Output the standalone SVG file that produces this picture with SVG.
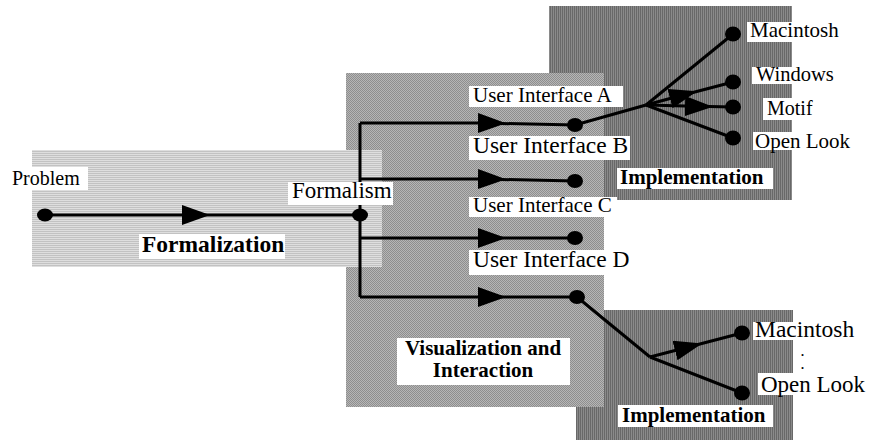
<svg xmlns="http://www.w3.org/2000/svg" width="872" height="444" viewBox="0 0 872 444">
<style>
.lbl{font-family:"Liberation Serif","Times New Roman",serif;fill:#000}
.b{font-weight:bold}
.bg{fill:#fff}
.ln{fill:none;stroke:#000;stroke-width:3}
.arr{fill:none;stroke:#000;stroke-width:3;marker-mid:url(#ah)}
.dot{fill:#000}
</style>
<defs>
<pattern id="pLight" width="2" height="2" patternUnits="userSpaceOnUse">
<rect width="2" height="2" fill="#dedede"/><rect y="1" width="2" height="1" fill="#c2c2c2"/>
</pattern>
<pattern id="pMed" width="2" height="2" patternUnits="userSpaceOnUse">
<rect width="2" height="2" fill="#b6b6b6"/><rect width="1" height="1" fill="#8e8e8e"/><rect x="1" y="1" width="1" height="1" fill="#8e8e8e"/>
</pattern>
<pattern id="pDark" width="2" height="2" patternUnits="userSpaceOnUse">
<rect width="2" height="2" fill="#8a8a8a"/><rect width="1" height="2" fill="#686868"/>
</pattern>
<marker id="ah" markerUnits="userSpaceOnUse" viewBox="0 0 28 20" refX="0" refY="10" markerWidth="28" markerHeight="20" orient="auto">
<path d="M0,0 L28,10 L0,20 z" fill="#000"/>
</marker>
</defs>

<g id="regions">
<rect id="implTopBg" x="549" y="6" width="243" height="194" fill="url(#pDark)"/>
<rect id="implBotBg" x="576" y="310" width="217" height="130" fill="url(#pDark)"/>
<rect id="visBg" x="346" y="73" width="258" height="334" fill="url(#pMed)"/>
<rect id="formBg" x="32" y="150" width="350" height="117" fill="url(#pLight)"/>
</g>

<g id="connectors">
<path class="arr" d="M45,215 L182,215 L360,215"/>
<path class="ln" d="M360,123 L360,297"/>
<path class="arr" d="M360,123 L478,123 L575,125"/>
<path class="arr" d="M360,179 L478,179 L575,181"/>
<path class="arr" d="M360,238 L478,238 L575,238"/>
<path class="arr" d="M360,297 L478,297 L577,297"/>
<path class="ln" d="M575,125 L646,105"/>
<path class="ln" d="M646,105 L733,34"/>
<path class="arr" d="M646,105 L670,98.5 L733,82"/>
<path class="arr" d="M646,105 L685,106 L733,107"/>
<path class="ln" d="M646,105 L733,138"/>
<path class="ln" d="M577,297 L650,357"/>
<path class="arr" d="M650,357 L675,350.5 L742,333"/>
<path class="ln" d="M650,357 L742,393"/>
</g>

<g id="n-problem">
<ellipse class="dot" cx="45" cy="215" rx="8" ry="6.5"/>
<rect class="bg" x="8" y="167" width="80" height="23"/>
<text class="lbl" x="12" y="185" font-size="20">Problem</text>
</g>
<g id="n-formalism">
<ellipse class="dot" cx="360" cy="215" rx="8" ry="6.5"/>
<rect class="bg" x="288" y="182" width="105" height="23"/>
<text class="lbl" x="292" y="198" font-size="23">Formalism</text>
</g>
<g id="l-formalization">
<rect class="bg" x="139" y="234" width="146" height="25"/>
<text class="lbl b" x="142" y="252" font-size="23.5">Formalization</text>
</g>

<g id="n-uiA">
<ellipse class="dot" cx="575" cy="125" rx="8" ry="7"/>
<rect class="bg" x="469" y="86" width="154" height="21"/>
<text class="lbl" x="473" y="102" font-size="21">User Interface A</text>
</g>
<g id="n-uiB">
<ellipse class="dot" cx="575" cy="181" rx="8" ry="7"/>
<rect class="bg" x="469" y="136" width="161" height="24"/>
<text class="lbl" x="473" y="153" font-size="23.5">User Interface B</text>
</g>
<g id="n-uiC">
<ellipse class="dot" cx="575" cy="238" rx="8" ry="7"/>
<rect class="bg" x="469" y="197" width="148" height="20"/>
<text class="lbl" x="473" y="212" font-size="21">User Interface C</text>
</g>
<g id="n-uiD">
<ellipse class="dot" cx="577" cy="297" rx="8" ry="7"/>
<rect class="bg" x="469" y="250" width="164" height="25"/>
<text class="lbl" x="473" y="267" font-size="23.5">User Interface D</text>
</g>

<g id="l-vis">
<rect class="bg" x="397" y="338" width="173" height="47"/>
<text class="lbl b" x="483" y="355" font-size="21" text-anchor="middle">Visualization and</text>
<text class="lbl b" x="483" y="377" font-size="21" text-anchor="middle">Interaction</text>
</g>

<g id="n-mac1">
<ellipse class="dot" cx="733" cy="34" rx="8" ry="7.5"/>
<rect class="bg" x="747" y="22" width="93" height="20"/>
<text class="lbl" x="750" y="37" font-size="21">Macintosh</text>
</g>
<g id="n-win1">
<ellipse class="dot" cx="733" cy="82" rx="8" ry="7.5"/>
<rect class="bg" x="752" y="67" width="85" height="17"/>
<text class="lbl" x="756" y="81" font-size="20.5">Windows</text>
</g>
<g id="n-motif1">
<ellipse class="dot" cx="733" cy="107" rx="8" ry="7.5"/>
<rect class="bg" x="763" y="98" width="52" height="22"/>
<text class="lbl" x="767" y="115" font-size="20">Motif</text>
</g>
<g id="n-open1">
<ellipse class="dot" cx="733" cy="138" rx="8" ry="7.5"/>
<rect class="bg" x="753" y="132" width="99" height="18"/>
<text class="lbl" x="755" y="148" font-size="21">Open Look</text>
</g>
<g id="l-impl1">
<rect class="bg" x="617" y="168" width="156" height="21"/>
<text class="lbl b" x="620" y="184" font-size="21">Implementation</text>
</g>

<g id="n-mac2">
<ellipse class="dot" cx="742" cy="333" rx="8" ry="7.5"/>
<rect class="bg" x="753" y="322" width="102" height="18"/>
<text class="lbl" x="755" y="337" font-size="23.5">Macintosh</text>
</g>
<g id="l-dots">
<text class="lbl b" x="801" y="356" font-size="12">.</text>
<text class="lbl b" x="801" y="368.5" font-size="12">.</text>
</g>
<g id="n-open2">
<ellipse class="dot" cx="742" cy="393" rx="8" ry="7.5"/>
<rect class="bg" x="758" y="373" width="109" height="22"/>
<text class="lbl" x="761" y="392" font-size="23">Open Look</text>
</g>
<g id="l-impl2">
<rect class="bg" x="618" y="405" width="155" height="22"/>
<text class="lbl b" x="622" y="422" font-size="21">Implementation</text>
</g>
</svg>
